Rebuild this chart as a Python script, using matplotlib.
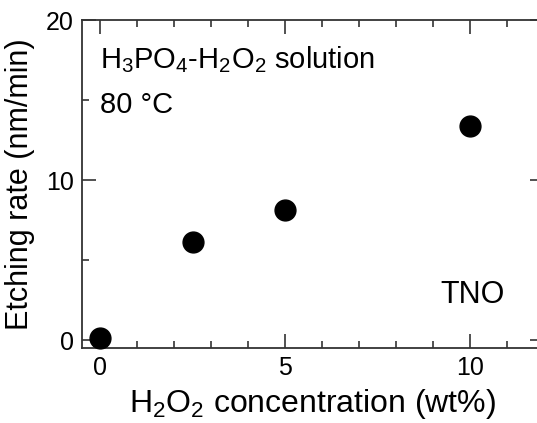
import matplotlib
matplotlib.use("Agg")
import matplotlib.pyplot as plt
from matplotlib.ticker import MultipleLocator

plt.rcParams['font.family'] = ['Liberation Sans', 'DejaVu Sans']
plt.rcParams['mathtext.fontset'] = 'custom'
plt.rcParams['mathtext.rm'] = 'Liberation Sans'
plt.rcParams['mathtext.it'] = 'Liberation Sans'

h2o2_wt = [0, 2.5, 5, 10]
etch_rate = [0.1, 6.1, 8.1, 13.4]
xticks = [0, 5, 10]
yticks = [0, 10, 20]

fig = plt.figure(figsize=(5.37, 4.23), dpi=100)
ax = fig.add_axes([0.1527, 0.1773, 0.860, 0.7754])

ax.plot(h2o2_wt, etch_rate, 'o', color='black', markersize=15, clip_on=False, zorder=5)

ax.set_xlim(-0.5, 12)
ax.set_ylim(-0.5, 20)
ax.set_xticks(xticks)
ax.set_yticks(yticks)
ax.xaxis.set_minor_locator(MultipleLocator(1))
ax.yaxis.set_minor_locator(MultipleLocator(5))

sc = '#333333'
for s in ax.spines.values():
    s.set_color(sc)
    s.set_linewidth(1.3)

ax.tick_params(which='both', direction='in', top=True, right=True, color=sc, width=1.2)
ax.tick_params(which='major', length=10, labelsize=18, pad=6)
ax.tick_params(which='minor', length=5)

ax.set_xlabel(r'H$_2$O$_2$ concentration (wt%)', fontsize=23, labelpad=5)
ax.set_ylabel('Etching rate (nm/min)', fontsize=22, labelpad=8)

ax.text(0.039, 0.854, r'H$_3$PO$_4$-H$_2$O$_2$ solution', transform=ax.transAxes,
        fontsize=21, va='baseline', ha='left')
ax.text(0.039, 0.716, '80 °C', transform=ax.transAxes,
        fontsize=21, va='baseline', ha='left')
ax.text(0.775, 0.137, 'TNO', transform=ax.transAxes,
        fontsize=22, va='baseline', ha='left')

fig.savefig('out.png', dpi=100)
